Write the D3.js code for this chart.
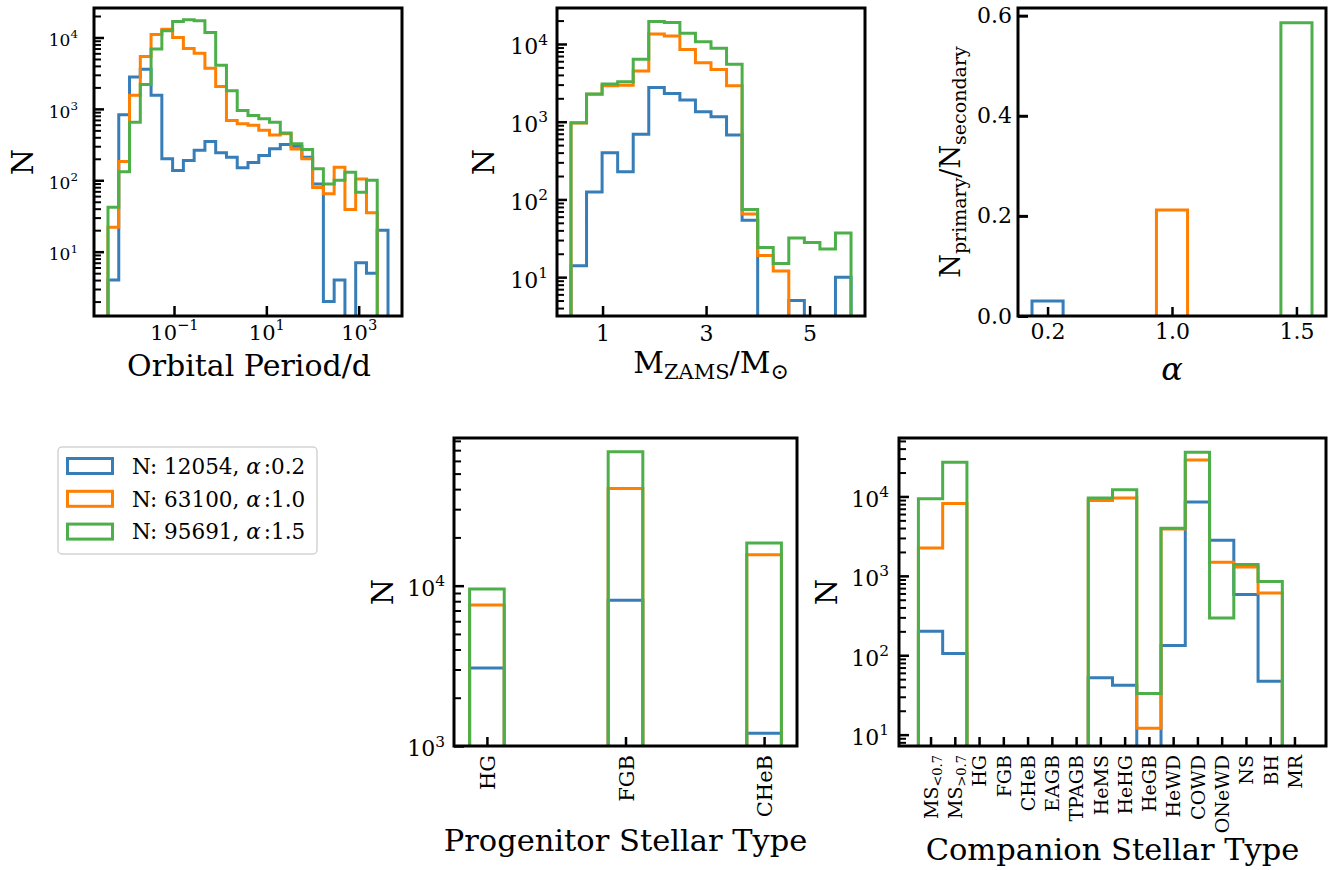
<!DOCTYPE html>
<html>
<head>
<meta charset="utf-8">
<script src="https://cdn.jsdelivr.net/npm/d3@7"></script>
<style>
body { margin: 0; background: #fff; }
text { font-family: "DejaVu Serif", serif; fill: #000; }
</style>
</head>
<body>
<script>
// series colours: alpha = 0.2, 1.0, 1.5
var colors = ['#377eb8', '#ff7f00', '#4daf4a'];
var alphaLabels = ['0.2', '1.0', '1.5'];
var totalCounts = [12054, 63100, 95691];

// orbital period histogram, log10 bin range
var periodLogLo = -2.43, periodLogHi = 3.635;
var periodBlue   = [4, 830, 2800, 3600, 1550, 200, 137, 190, 263, 350, 243, 210, 150, 178, 222, 276, 316, 300, 211, 89, 2, 4, 0, 7, 5, 20];
var periodOrange = [22, 183, 1550, 5400, 11000, 13000, 10000, 7000, 6000, 3700, 2050, 690, 620, 590, 500, 430, 450, 275, 200, 79, 65, 152, 39, 104, 35, 0];
var periodGreen  = [42, 132, 650, 2200, 6900, 12400, 16800, 17700, 17200, 11700, 4100, 1800, 950, 810, 730, 650, 460, 325, 270, 145, 89, 100, 130, 68, 100, 0];

// ZAMS mass histogram
var massLo = 0.39, massHi = 5.8;
var massBlue   = [14, 125, 400, 227, 690, 2760, 2300, 1900, 1345, 1160, 675, 54, 0, 0, 5, 0, 0, 10];
var massOrange = [960, 2250, 2900, 2950, 4490, 13400, 12700, 8500, 5750, 4700, 2900, 65, 19, 12, 0, 0, 0, 0];
var massGreen  = [970, 2280, 3050, 3270, 6350, 19400, 18900, 13700, 10700, 8800, 5470, 74, 24, 15, 32, 28, 23, 37];

// N_primary / N_secondary
var ratioValues = [0.030, 0.212, 0.586];

// progenitor stellar type
var progTypes  = ['HG', 'FGB', 'CHeB'];
var progBlue   = [3060, 8100, 1200];
var progOrange = [7570, 40400, 15600];
var progGreen  = [9530, 68400, 18450];

// companion stellar type
var compTypes  = ['MS<0.7', 'MS>0.7', 'HG', 'FGB', 'CHeB', 'EAGB', 'TPAGB', 'HeMS', 'HeHG', 'HeGB', 'HeWD', 'COWD', 'ONeWD', 'NS', 'BH', 'MR'];
var compBlue   = [200, 105, 0, 0, 0, 0, 0, 52, 42, 0, 133, 8500, 2800, 582, 47, 0];
var compOrange = [2240, 8130, 0, 0, 0, 0, 0, 8900, 9550, 12, 3880, 28700, 1480, 1290, 610, 0];
var compGreen  = [9350, 26900, 0, 0, 0, 0, 0, 9550, 12150, 33, 3980, 35900, 295, 1390, 850, 0];

var svg = d3.select('body').append('svg')
  .attr('width', 1333)
  .attr('height', 870);
var defs = svg.append('defs');
var clipN = 0;

function makePanel(x0, y0, w, h) {
  var g = svg.append('g').attr('transform', 'translate(' + x0 + ',' + y0 + ')');
  var id = 'clip' + (clipN++);
  defs.append('clipPath').attr('id', id)
    .append('rect').attr('width', w).attr('height', h);
  var plot = g.append('g').attr('clip-path', 'url(#' + id + ')');
  return {g: g, plot: plot, w: w, h: h};
}

function frame(p) {
  p.g.append('rect')
    .attr('width', p.w).attr('height', p.h)
    .attr('fill', 'none').attr('stroke', '#000').attr('stroke-width', 3);
}

// matplotlib-like histtype='step' outline
function stepLine(p, edges, values, x, y, color) {
  var below = p.h + 20;
  function yy(v) { return v > 0 ? y(v) : below; }
  var pts = [[x(edges[0]), below]];
  values.forEach(function(v, i) {
    pts.push([x(edges[i]), yy(v)]);
    pts.push([x(edges[i + 1]), yy(v)]);
  });
  pts.push([x(edges[edges.length - 1]), below]);
  p.plot.append('path')
    .attr('d', d3.line()(pts))
    .attr('fill', 'none')
    .attr('stroke', color)
    .attr('stroke-width', 3);
}

function isPow10(v) {
  var l = Math.log10(v);
  return Math.abs(l - Math.round(l)) < 1e-6;
}

function finishAxis(sel, lw) {
  sel.select('.domain').remove();
  sel.selectAll('.tick line').attr('stroke', '#000').attr('stroke-width', lw);
  sel.attr('font-family', null).attr('font-size', null);
}

function supText(t, base, exp, size) {
  t.text(null).style('font-size', size + 'px');
  t.append('tspan').text(base);
  t.append('tspan').attr('dy', (-0.45 * size) + 'px')
    .style('font-size', (size * 0.7) + 'px').text(exp);
}

function expLabel(d) {
  return String(Math.round(Math.log10(d))).replace('-', '\u2212');
}

function logYAxis(p, y, pad, size) {
  var dom = y.domain();
  var ticks = y.ticks().filter(function(v) { return v >= dom[0] * 0.999 && v <= dom[1] * 1.001; });
  var minors = ticks.filter(function(v) { return !isPow10(v); });
  var majors = ticks.filter(isPow10);
  var gm = p.g.append('g').call(d3.axisLeft(y).tickValues(minors).tickSize(-7).tickFormat(''));
  finishAxis(gm, 2);
  var gM = p.g.append('g').call(d3.axisLeft(y).tickValues(majors).tickSize(-10).tickPadding(pad).tickFormat(''));
  finishAxis(gM, 2.5);
  gM.selectAll('.tick text').each(function(d) {
    var t = d3.select(this).attr('dy', (size * 0.36 + 2) + 'px');
    supText(t, '10', expLabel(d), size);
  });
}

function label(x, y, size, rotate) {
  var t = svg.append('text')
    .attr('transform', 'translate(' + x + ',' + y + ')' + (rotate ? ' rotate(-90)' : ''))
    .attr('text-anchor', 'middle')
    .style('font-size', size + 'px');
  return t;
}

function binEdges(lo, hi, n) {
  return d3.range(n + 1).map(function(i) { return lo + i * (hi - lo) / n; });
}

// ---------- orbital period ----------
var pA = makePanel(94, 8, 308, 308);
var xA = d3.scaleLog().domain([Math.pow(10, -2.733), Math.pow(10, 3.938)]).range([0, pA.w]);
var yA = d3.scaleLog().domain([Math.pow(10, 0.099), Math.pow(10, 4.413)]).range([pA.h, 0]);
var periodEdges = binEdges(periodLogLo, periodLogHi, periodBlue.length).map(function(e) { return Math.pow(10, e); });
[periodBlue, periodOrange, periodGreen].forEach(function(s, i) {
  stepLine(pA, periodEdges, s, xA, yA, colors[i]);
});
var gAx = pA.g.append('g').attr('transform', 'translate(0,' + pA.h + ')')
  .call(d3.axisBottom(xA).tickValues([0.1, 10, 1000]).tickSize(-10).tickPadding(9).tickFormat(''));
finishAxis(gAx, 2.5);
gAx.selectAll('.tick text').each(function(d) { supText(d3.select(this), '10', expLabel(d), 21); });
logYAxis(pA, yA, 16, 17);
frame(pA);
label(249, 376, 30).text('Orbital Period/d');
label(22, 162, 30, true).attr('dy', '0.36em').text('N');

// ---------- ZAMS mass ----------
var pB = makePanel(557, 8, 308, 308);
var xB = d3.scaleLinear().domain([0.12, 6.07]).range([0, pB.w]);
var yB = d3.scaleLog().domain([Math.pow(10, 0.5), Math.pow(10, 4.463)]).range([pB.h, 0]);
var massEdges = binEdges(massLo, massHi, massBlue.length);
[massBlue, massOrange, massGreen].forEach(function(s, i) {
  stepLine(pB, massEdges, s, xB, yB, colors[i]);
});
var gBx = pB.g.append('g').attr('transform', 'translate(0,' + pB.h + ')')
  .call(d3.axisBottom(xB).tickValues([1, 3, 5]).tickSize(-10).tickPadding(9).tickFormat(d3.format('d')));
finishAxis(gBx, 2.5);
gBx.selectAll('.tick text').style('font-size', '22px');
logYAxis(pB, yB, 9, 22);
frame(pB);
var tB = label(711, 373, 30);
tB.append('tspan').text('M');
tB.append('tspan').attr('dy', '6px').style('font-size', '21px').text('ZAMS');
tB.append('tspan').attr('dy', '-6px').text('/M');
tB.append('tspan').attr('dy', '6px').style('font-size', '22px').text('\u2299');
label(483, 162, 30, true).attr('dy', '0.36em').text('N');

// ---------- N_primary / N_secondary ----------
var pC = makePanel(1018, 8, 308, 308);
var xC = d3.scaleLinear().domain([-0.2375, 2.2375]).range([0, pC.w]);
var yC = d3.scaleLinear().domain([0, 0.6153]).range([pC.h, 0]);
ratioValues.forEach(function(v, i) {
  stepLine(pC, [i - 0.125, i + 0.125], [v], xC, yC, colors[i]);
});
var gCx = pC.g.append('g').attr('transform', 'translate(0,' + pC.h + ')')
  .call(d3.axisBottom(xC).tickValues([0, 1, 2]).tickSize(-9).tickPadding(7)
    .tickFormat(function(d) { return alphaLabels[d]; }));
finishAxis(gCx, 2.5);
gCx.selectAll('.tick text').style('font-size', '22px');
var gCy = pC.g.append('g')
  .call(d3.axisLeft(yC).tickValues([0, 0.2, 0.4, 0.6]).tickSize(-10).tickPadding(6).tickFormat(d3.format('.1f')));
finishAxis(gCy, 3);
gCy.selectAll('.tick text').style('font-size', '22px');
frame(pC);
label(1172, 380, 32).style('font-style', 'italic').text('\u03b1');
var tC = svg.append('text')
  .attr('transform', 'translate(960,162) rotate(-90)')
  .attr('text-anchor', 'middle')
  .style('font-size', '27px');
tC.append('tspan').text('N');
tC.append('tspan').attr('dy', '6px').style('font-size', '19px').text('primary');
tC.append('tspan').attr('dy', '-6px').text('/N');
tC.append('tspan').attr('dy', '6px').style('font-size', '19px').text('secondary');

// ---------- legend ----------
var leg = svg.append('g');
leg.append('rect')
  .attr('x', 58).attr('y', 447).attr('width', 259).attr('height', 107).attr('rx', 4)
  .attr('fill', '#fff').attr('stroke', '#d3d3d3').attr('stroke-width', 1.5);
colors.forEach(function(c, i) {
  var cy = 466 + i * 32.8;
  leg.append('rect')
    .attr('x', 67.5).attr('y', cy - 7.5).attr('width', 45).attr('height', 15)
    .attr('fill', 'none').attr('stroke', c).attr('stroke-width', 3);
  var t = leg.append('text').attr('x', 132).attr('y', cy).attr('dy', '0.36em').style('font-size', '21.5px');
  t.append('tspan').text('N: ' + totalCounts[i] + ', ');
  t.append('tspan').style('font-style', 'italic').text('\u03b1');
  t.append('tspan').attr('dx', 3).text(':' + alphaLabels[i]);
});

// ---------- progenitor stellar type ----------
var pD = makePanel(454, 438, 343, 308);
var xD = d3.scaleLinear().domain([-0.2375, 2.2375]).range([0, pD.w]);
var yD = d3.scaleLog().domain([1000, Math.pow(10, 4.921)]).range([pD.h, 0]);
[progBlue, progOrange, progGreen].forEach(function(s, i) {
  s.forEach(function(v, k) {
    stepLine(pD, [k - 0.125, k + 0.125], [v], xD, yD, colors[i]);
  });
});
var gDx = pD.g.append('g').attr('transform', 'translate(0,' + pD.h + ')')
  .call(d3.axisBottom(xD).tickValues(d3.range(progTypes.length)).tickSize(-9)
    .tickFormat(function(d) { return progTypes[d]; }));
finishAxis(gDx, 2.5);
gDx.selectAll('.tick text')
  .attr('transform', 'rotate(-90)').attr('x', -9).attr('y', 0).attr('dy', (21 * 0.36) + 'px')
  .style('text-anchor', 'end').style('font-size', '21px');
logYAxis(pD, yD, 9, 22);
frame(pD);
label(625.5, 851, 30.5).text('Progenitor Stellar Type');
label(382, 592, 30, true).attr('dy', '0.36em').text('N');

// ---------- companion stellar type ----------
var pE = makePanel(899, 438, 427, 308);
var xE = d3.scaleLinear().domain([-1.3, 16.3]).range([0, pE.w]);
var yE = d3.scaleLog().domain([Math.pow(10, 0.857), Math.pow(10, 4.736)]).range([pE.h, 0]);
var compEdges = d3.range(compTypes.length + 1).map(function(i) { return i - 0.5; });
[compBlue, compOrange, compGreen].forEach(function(s, i) {
  stepLine(pE, compEdges, s, xE, yE, colors[i]);
});
var gEx = pE.g.append('g').attr('transform', 'translate(0,' + pE.h + ')')
  .call(d3.axisBottom(xE).tickValues(d3.range(compTypes.length)).tickSize(-9).tickFormat(''));
finishAxis(gEx, 2.5);
gEx.selectAll('.tick text')
  .attr('transform', 'rotate(-90)').attr('x', -9).attr('y', 0).attr('dy', (19 * 0.36) + 'px')
  .style('text-anchor', 'end').style('font-size', '19px')
  .each(function(d) {
    var t = d3.select(this), name = compTypes[d];
    if (name.indexOf('MS') === 0) {
      t.append('tspan').text('MS');
      t.append('tspan').attr('dy', '4px').style('font-size', '13px').text(name.slice(2));
    } else {
      t.text(name);
    }
  });
logYAxis(pE, yE, 10, 22);
frame(pE);
label(1112.5, 860, 30.5).text('Companion Stellar Type');
label(826, 592, 30, true).attr('dy', '0.36em').text('N');
</script>
</body>
</html>
